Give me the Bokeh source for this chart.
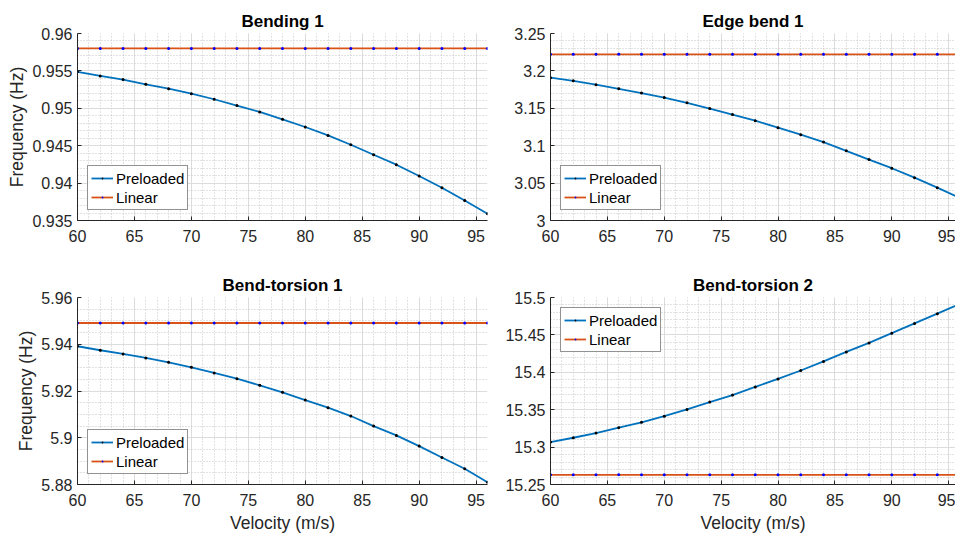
from bokeh.plotting import figure
from bokeh.layouts import column, row
from bokeh.models import SingleIntervalTicker, CustomJSTickFormatter, Range1d
from bokeh.embed import file_html
from bokeh.resources import INLINE

# Flutter-speed sweep: modal frequency vs. airspeed
velocity = [60, 62, 64, 66, 68, 70, 72, 74, 76, 78, 80, 82, 84, 86, 88, 90, 92, 94, 96]

bending1_preloaded = [0.95487, 0.95433, 0.95384, 0.95321, 0.95263, 0.95196, 0.95121, 0.95036,
                      0.94951, 0.94853, 0.94750, 0.94638, 0.94513, 0.94379, 0.94246, 0.94094,
                      0.93938, 0.93768, 0.93590]
bending1_linear = [0.958, 0.958, 0.958, 0.958, 0.958, 0.958, 0.958, 0.958, 0.958, 0.958,
                   0.958, 0.958, 0.958, 0.958, 0.958, 0.958, 0.958, 0.958, 0.958]

edge1_preloaded = [3.1909, 3.1868, 3.1815, 3.1761, 3.1703, 3.1644, 3.1573, 3.1496, 3.1416,
                   3.1335, 3.1241, 3.1147, 3.1048, 3.0932, 3.0815, 3.0699, 3.0573, 3.0439,
                   3.0300]
edge1_linear = [3.2222, 3.2222, 3.2222, 3.2222, 3.2222, 3.2222, 3.2222, 3.2222, 3.2222, 3.2222,
                3.2222, 3.2222, 3.2222, 3.2222, 3.2222, 3.2222, 3.2222, 3.2222, 3.2222]

bt1_preloaded = [5.93914, 5.93743, 5.93586, 5.93414, 5.93229, 5.93014, 5.92771, 5.92529,
                 5.92243, 5.91943, 5.91614, 5.91286, 5.90929, 5.90500, 5.90100, 5.89643,
                 5.89157, 5.88671, 5.88100]
bt1_linear = [5.9491, 5.9491, 5.9491, 5.9491, 5.9491, 5.9491, 5.9491, 5.9491, 5.9491, 5.9491,
              5.9491, 5.9491, 5.9491, 5.9491, 5.9491, 5.9491, 5.9491, 5.9491, 5.9491]

bt2_preloaded = [15.3067, 15.3125, 15.3188, 15.3260, 15.3332, 15.3413, 15.3503, 15.3602,
                 15.3696, 15.3804, 15.3912, 15.4024, 15.4146, 15.4272, 15.4393, 15.4523,
                 15.4654, 15.4784, 15.4917]
bt2_linear = [15.2630, 15.2630, 15.2630, 15.2630, 15.2630, 15.2630, 15.2630, 15.2630, 15.2630,
              15.2630, 15.2630, 15.2630, 15.2630, 15.2630, 15.2630, 15.2630, 15.2630, 15.2630,
              15.2630]

FONT = "Liberation Sans"
AX = "#262626"
BLUE = "#0072BD"
ORANGE = "#D95319"


def panel(title, pre, lin, y_range, y_step, y_minor, x_end, frame_w,
          border_l, border_r, border_t, border_b, legend_loc,
          y_label=None, x_label=None):
    p = figure(frame_width=frame_w, frame_height=187,
               x_range=Range1d(60, x_end), y_range=Range1d(*y_range),
               output_backend="svg", toolbar_location=None,
               min_border_left=border_l, min_border_right=border_r,
               min_border_top=border_t, min_border_bottom=border_b,
               background_fill_color="white", border_fill_color="white")
    p.outline_line_color = None

    p.title.text = title
    p.title.align = "center"
    p.title.text_font = FONT
    p.title.text_font_size = "17px"
    p.title.text_font_style = "bold"
    p.title.text_color = "#000000"
    p.title.standoff = 5

    p.xaxis.ticker = SingleIntervalTicker(interval=5, num_minor_ticks=5)
    p.yaxis.ticker = SingleIntervalTicker(interval=y_step, num_minor_ticks=y_minor)
    p.yaxis.formatter = CustomJSTickFormatter(code="return String(Number(tick.toFixed(4)));")
    p.xaxis.formatter = CustomJSTickFormatter(code="return String(Math.round(tick));")

    for ax in (p.xaxis[0], p.yaxis[0]):
        ax.axis_line_color = AX
        ax.axis_line_width = 1
        ax.major_tick_line_color = AX
        ax.major_tick_in = 4
        ax.major_tick_out = 0
        ax.minor_tick_in = 0
        ax.minor_tick_out = 0
        ax.major_label_text_font = FONT
        ax.major_label_text_font_size = "16px"
        ax.major_label_text_color = AX
        ax.axis_label_text_font = FONT
        ax.axis_label_text_font_size = "17.5px"
        ax.axis_label_text_font_style = "normal"
        ax.axis_label_text_color = AX
    p.xaxis.major_label_standoff = 9
    p.yaxis.major_label_standoff = 5
    p.yaxis.axis_label_standoff = 2
    p.xaxis.axis_label_standoff = 4
    if y_label:
        p.yaxis.axis_label = y_label
    if x_label:
        p.xaxis.axis_label = x_label

    for g in (p.xgrid[0], p.ygrid[0]):
        g.grid_line_color = "#dcdcdc"
        g.grid_line_width = 1
        g.minor_grid_line_color = "#c4c4c4"
        g.minor_grid_line_dash = "1 2"
        g.minor_grid_line_width = 1

    p.line(velocity, pre, line_color=BLUE, line_width=1.8, legend_label="Preloaded")
    p.scatter(velocity, pre, marker="dot", size=12, line_color="black",
              legend_label="Preloaded")
    p.line(velocity, lin, line_color=ORANGE, line_width=1.8, legend_label="Linear")
    p.scatter(velocity, lin, marker="dot", size=12, line_color="#0000ff",
              legend_label="Linear")

    lg = p.legend[0]
    lg.location = legend_loc
    lg.margin = 10
    lg.padding = 3
    lg.spacing = 1
    lg.glyph_width = 22
    lg.glyph_height = 18
    lg.label_height = 18
    lg.label_standoff = 3
    lg.label_text_font = FONT
    lg.label_text_font_size = "15px"
    lg.label_text_color = "#000000"
    lg.border_line_color = AX
    lg.border_line_width = 1
    lg.background_fill_color = "white"
    lg.background_fill_alpha = 1
    return p


p1 = panel("Bending 1", bending1_preloaded, bending1_linear, (0.935, 0.96), 0.005, 5,
           96, 410, 77, 5, 33, 30, "bottom_left", y_label="Frequency (Hz)")
p2 = panel("Edge bend 1", edge1_preloaded, edge1_linear, (3.0, 3.25), 0.05, 5,
           95.6, 405, 58, 0, 33, 30, "bottom_left")
p3 = panel("Bend-torsion 1", bt1_preloaded, bt1_linear, (5.88, 5.96), 0.02, 4,
           96, 410, 77, 5, 47, 51, "bottom_left", y_label="Frequency (Hz)",
           x_label="Velocity (m/s)")
p4 = panel("Bend-torsion 2", bt2_preloaded, bt2_linear, (15.25, 15.5), 0.05, 5,
           95.6, 405, 58, 0, 47, 51, "top_left", x_label="Velocity (m/s)")

layout = column(row(p1, p2, spacing=0), row(p3, p4, spacing=0), spacing=0)

open("out.html", "w").write(file_html(layout, INLINE))
